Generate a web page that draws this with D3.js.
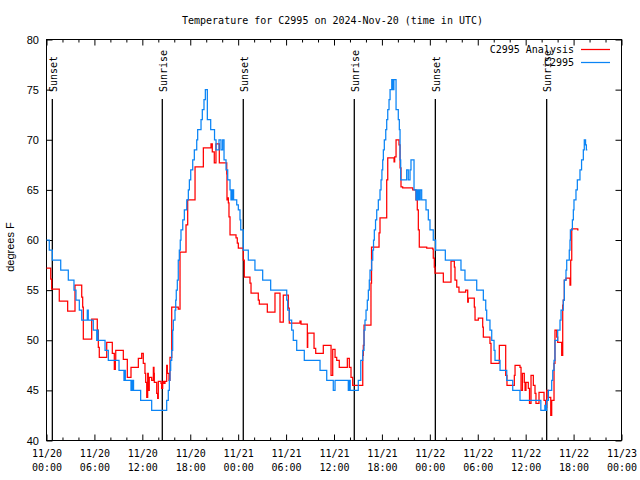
<!DOCTYPE html>
<html>
<head>
<meta charset="utf-8">
<script src="https://cdn.jsdelivr.net/npm/d3@7/dist/d3.min.js"></script>
<style>
  html, body { margin: 0; padding: 0; background: #fff; }
  svg { display: block; }
</style>
</head>
<body>
<svg id="chart" width="640" height="480"></svg>
<script>
// ---------- data (hours since 2024-11-20 00:00 UTC) ----------
const chartTitle = "Temperature for C2995 on 2024-Nov-20 (time in UTC)";
const yLabel = "degrees F";
const seriesNames = ["C2995 Analysis", "C2995"];
const seriesColors = ["#ff0000", "#0a84f5"];

const xTicks = [0, 6, 12, 18, 24, 30, 36, 42, 48, 54, 60, 66, 72];
const xTickLabels = [
  ["11/20", "00:00"], ["11/20", "06:00"], ["11/20", "12:00"], ["11/20", "18:00"],
  ["11/21", "00:00"], ["11/21", "06:00"], ["11/21", "12:00"], ["11/21", "18:00"],
  ["11/22", "00:00"], ["11/22", "06:00"], ["11/22", "12:00"], ["11/22", "18:00"],
  ["11/23", "00:00"]
];
const yTicks = [40, 45, 50, 55, 60, 65, 70, 75, 80];

const sunTimes = [0.73, 14.5, 24.64, 38.54, 48.69, 62.63];
const sunLabels = ["Sunset", "Sunrise", "Sunset", "Sunrise", "Sunset", "Sunrise"];

// C2995 Analysis (red) – change points
const analysisTime = [0, 0.53, 0.65, 1.60, 2.65, 3.57, 4.41, 4.53, 4.61, 5.66, 6.36, 6.49, 6.61, 7.54, 8.24, 8.49, 8.62, 8.67,
  9.62, 10.12, 10.58, 11.5, 11.92, 12.12, 12.33, 12.42, 12.55, 12.67, 12.75, 12.87, 13.17, 13.38, 13.46, 13.5, 13.8, 13.92,
  14.0, 14.34, 14.42, 14.55, 14.71, 14.84, 15.05, 15.13, 15.34, 15.46, 15.68, 16.5, 16.72, 17.47, 17.68, 18.6, 19.64,
  20.6, 20.76, 21.01, 21.22, 21.64, 22.57, 22.6, 22.69, 22.77, 22.85, 22.98, 23.73, 23.89, 24.02, 24.64, 24.77,
  25.48, 25.61, 26.52, 26.65, 27.65, 28.61, 29.24, 29.65, 30.28, 30.4, 31.74, 31.87, 32.66, 32.71, 33.5, 33.71, 34.66,
  35.63, 35.84, 36.13, 36.34, 36.66, 37.67, 37.92, 38.13, 38.34, 39.6, 39.67, 39.76, 40.63, 40.7, 41.64, 41.76, 42.6,
  42.73, 43.52, 43.6, 43.77, 44.14, 44.27, 44.39, 44.6, 45.86, 46.27, 46.43, 46.56, 46.68, 47.61, 48.36, 48.43, 48.56,
  48.65, 49.69, 50.65, 51.07, 51.15, 51.37, 51.65, 52.49, 52.74, 52.82, 53.57, 53.66, 54.07, 54.62, 54.7, 55.53, 55.66,
  56.7, 57.5, 57.66, 58.58, 58.67, 59.29, 59.42, 59.6, 59.83, 59.92, 60.04, 60.33, 60.48, 60.67, 60.96, 61.17, 61.29,
  61.67, 62.3, 62.51, 62.63, 62.84, 63.14, 63.26, 63.55, 63.67, 63.89, 64.01, 64.51, 64.64, 64.71, 64.84, 65.05, 65.55,
  65.64, 65.77, 66.52, 66.62];
const analysisTemp = [57.2, 56.1, 55.1, 53.9, 52.9, 55.5, 54.3, 53.3, 50.1, 52.1, 51.0, 49.3, 48.3, 49.8, 48.7, 47.1, 48.0, 49.0,
  48.1, 46.3, 47.3, 48.2, 48.7, 47.7, 46.7, 45.8, 44.3, 46.7, 45.0, 46.3, 46.0, 47.3, 46.7, 45.8, 44.7, 44.2,
  45.9, 45.7, 45.2, 45.9, 45.7, 45.9, 47.5, 46.7, 46.0, 48.3, 53.3, 53.1, 58.8, 61.5, 64.0, 67.3, 69.2,
  69.6, 68.8, 67.7, 69.6, 67.7, 66.6, 64.0, 64.2, 63.7, 62.3, 60.5, 60.2, 59.7, 59.2, 58.0, 56.3,
  55.7, 54.7, 54.0, 53.6, 52.8, 54.7, 51.8, 54.5, 53.2, 51.7, 51.9, 51.6, 49.3, 50.7, 49.2, 48.7, 49.5,
  46.5, 49.1, 48.3, 48.0, 47.3, 48.2, 47.3, 46.3, 45.5, 48.5, 49.5, 51.5, 55.7, 59.3, 60.7, 62.2, 66.0,
  68.2, 67.8, 68.3, 70.0, 69.5, 67.2, 65.3, 65.2, 65.0, 64.0, 63.0, 61.0, 59.3, 59.2, 59.1, 58.2, 57.3,
  56.7, 55.8, 57.9, 57.3, 56.0, 55.3, 54.8, 55.0, 53.8, 54.2, 53.3, 52.0, 52.2, 51.3, 50.3, 49.7, 47.7,
  49.5, 46.5, 45.5, 46.5, 47.5, 47.3, 45.0, 46.7, 45.8, 45.0, 45.8, 45.2, 43.7, 46.5, 45.5, 44.7, 43.7,
  44.8, 44.0, 43.3, 45.0, 44.3, 42.5, 44.0, 47.7, 51.0, 50.3, 49.8, 48.5, 53.5, 54.0, 56.0, 56.2, 55.5,
  58.0, 61.1, 61.0, 61.0];

// C2995 observations (blue) – change points
const obsTime = [0, 0.35, 0.73, 1.78, 2.73, 3.44, 3.69, 4.11, 4.41, 5.11, 5.23, 5.86, 6.29, 6.37, 6.45, 7.33, 7.74, 9.08,
  9.70, 9.78, 9.87, 10.58, 10.67, 10.75, 10.83, 10.9, 11.79, 13.17, 15.05, 15.25, 15.38, 15.46, 15.55, 15.68, 15.80,
  15.88, 16.09, 16.18, 16.25, 16.38, 16.50, 16.63, 16.75, 16.84, 17.06, 17.26, 17.56, 17.76, 17.89, 18.06, 18.31,
  18.51, 18.81, 18.93, 19.35, 19.51, 19.72, 19.89, 20.14, 20.56, 21.04, 21.23, 21.60, 21.85, 22.06, 22.23, 22.48,
  22.69, 22.98, 23.10, 23.18, 23.27, 23.35, 23.43, 23.82, 24.02, 24.23, 24.32, 24.64, 25.27, 26.1, 27.07, 28.07,
  30.08, 30.2, 30.4, 30.7, 30.9, 31.33, 32.28, 34.25, 35.09, 35.91, 36.13, 37.79, 37.9, 38.03, 39.04, 39.35, 39.6,
  39.76, 39.88, 40.01, 40.17, 40.30, 40.42, 40.51, 40.72, 40.85, 40.95, 41.05, 41.2, 41.35, 41.55, 41.76, 41.89,
  42.0, 42.1, 42.18, 42.3, 42.48, 42.6, 42.73, 42.89, 43.02, 43.23, 43.3, 43.37, 43.44, 43.5, 43.77, 44.05, 44.18,
  44.27, 44.35, 45.10, 45.3, 45.52, 45.64, 46.02, 46.27, 46.4, 46.5, 46.6, 46.7, 46.8, 46.98, 47.52, 47.81, 48.02,
  48.43, 48.73, 49.94, 51.9, 52.4, 53.87, 54.7, 55.0, 55.12, 55.53, 55.75, 56.04, 56.16, 56.79, 57.63, 58.38, 59.29,
  61.9, 62.4, 62.5, 62.63, 62.84, 63.26, 63.39, 63.55, 63.67, 64.01, 64.3, 64.43, 64.71, 64.84, 65.05, 65.14, 65.46,
  65.55, 65.6, 65.85, 65.97, 66.05, 66.3, 66.47, 66.8, 67.0, 67.22, 67.34, 67.5, 67.6, 67.72];
const obsTemp = [60, 59, 58, 57, 56, 55, 54, 53, 52, 53, 52, 51, 50, 51, 50, 49, 48, 47,
  46, 47, 46, 45, 46, 45, 46, 45, 44, 43, 44, 45, 46, 47, 48, 49, 51,
  52, 53, 54, 55, 56, 58, 59, 60, 61, 62, 63, 64, 65, 66, 67, 68,
  69, 70, 71, 72, 73, 74, 75, 72, 71, 70, 69, 70, 69, 70, 68, 67,
  66, 65, 64, 65, 64, 65, 64, 63.5, 63, 62, 61, 59, 58, 57, 56, 55,
  54, 53, 52, 51, 50, 49, 48, 47, 46, 45, 46, 45, 46, 45, 46, 48, 49,
  51, 52, 53, 54, 55, 56, 57, 58, 59, 60, 61, 62, 63, 64, 65, 66,
  67, 68, 69, 70, 71, 72, 73, 74, 75, 76, 75, 76, 75, 76, 73, 72, 71,
  68, 66, 67, 66, 67, 68, 65, 64, 65, 64, 65, 64, 65, 64, 63, 62, 61,
  60, 59, 58, 57, 56, 55, 54, 53, 52, 51, 50, 49, 48, 47, 46, 45, 44,
  43, 43.5, 43, 44, 45, 46, 47, 48, 50, 51, 52, 53, 54, 56, 57, 58, 59,
  60, 61, 62, 63, 64, 65, 66, 67, 68, 69, 70, 69.5, 69, 69];

// ---------- drawing ----------
const svg = d3.select("#chart");
const x = d3.scaleLinear().domain([0, 72]).range([46.5, 621.5]);
const y = d3.scaleLinear().domain([40, 80]).range([440.5, 39.5]);
const monoFont = "'DejaVu Sans Mono', monospace";
const sansFont = "'Liberation Sans', Arial, sans-serif";

svg.append("rect").attr("width", 640).attr("height", 480).attr("fill", "#fff");

// minor x ticks every 2h
const minorTicks = d3.range(0, 73, 2).filter(h => h % 6 !== 0);

function styleAxis(g) {
  g.select(".domain").remove();
  g.selectAll("line").attr("stroke", "#000").attr("stroke-width", 1);
}

svg.append("g").attr("transform", "translate(0,440.5)")
  .call(d3.axisBottom(x).tickValues(minorTicks).tickSize(-3).tickFormat(""))
  .call(styleAxis);
svg.append("g").attr("transform", "translate(0,39.5)")
  .call(d3.axisTop(x).tickValues(minorTicks).tickSize(-3).tickFormat(""))
  .call(styleAxis);

const xAxisB = svg.append("g").attr("transform", "translate(0,440.5)")
  .call(d3.axisBottom(x).tickValues(xTicks).tickSize(-6).tickFormat(""))
  .call(styleAxis);
xAxisB.selectAll(".tick").each(function(d, i) {
  const t = d3.select(this).append("text")
    .attr("fill", "#000").attr("text-anchor", "middle")
    .style("font-family", monoFont).style("font-size", "10px");
  t.append("tspan").attr("x", 0).attr("y", 16).text(xTickLabels[i][0]);
  t.append("tspan").attr("x", 0).attr("y", 30).text(xTickLabels[i][1]);
});
svg.append("g").attr("transform", "translate(0,39.5)")
  .call(d3.axisTop(x).tickValues(xTicks).tickSize(-6).tickFormat(""))
  .call(styleAxis);

const yAxisL = svg.append("g").attr("transform", "translate(46.5,0)")
  .call(d3.axisLeft(y).tickValues(yTicks).tickSize(-6).tickPadding(7.5).tickFormat(d3.format("d")))
  .call(styleAxis);
yAxisL.selectAll("text").attr("fill", "#000")
  .style("font-family", sansFont).style("font-size", "11px");
svg.append("g").attr("transform", "translate(621.5,0)")
  .call(d3.axisRight(y).tickValues(yTicks).tickSize(-6).tickFormat(""))
  .call(styleAxis);

// frame
svg.append("rect")
  .attr("x", x(0)).attr("y", y(80))
  .attr("width", x(72) - x(0)).attr("height", y(40) - y(80))
  .attr("fill", "none").attr("stroke", "#000").attr("stroke-width", 1);

// sunrise / sunset lines
const sun = svg.append("g");
sunTimes.forEach((t, i) => {
  sun.append("line")
    .attr("x1", x(t)).attr("x2", x(t)).attr("y1", 99).attr("y2", y(40))
    .attr("stroke", "#000").attr("stroke-width", 1.3);
  sun.append("text")
    .attr("transform", `translate(${x(t) + 4.5},92) rotate(-90)`)
    .attr("text-anchor", "start").attr("fill", "#000")
    .style("font-family", monoFont).style("font-size", "10px")
    .text(sunLabels[i]);
});

// series
const line = d3.line()
  .x(d => x(d[0])).y(d => y(d[1]))
  .curve(d3.curveStepAfter);

const obsData = obsTime.map((t, i) => [t, obsTemp[i]]);
const anaData = analysisTime.map((t, i) => [t, analysisTemp[i]]);

svg.append("path").datum(anaData)
  .attr("d", line).attr("fill", "none")
  .attr("stroke", seriesColors[0]).attr("stroke-width", 1.25);
svg.append("path").datum(obsData)
  .attr("d", line).attr("fill", "none")
  .attr("stroke", seriesColors[1]).attr("stroke-width", 1.25);

// legend
seriesNames.forEach((name, i) => {
  const ly = 49.5 + i * 13;
  svg.append("text")
    .attr("x", 574).attr("y", ly + 3.5)
    .attr("text-anchor", "end").attr("fill", "#000")
    .style("font-family", monoFont).style("font-size", "10px")
    .text(name);
  svg.append("line")
    .attr("x1", 581).attr("x2", 610).attr("y1", ly).attr("y2", ly)
    .attr("stroke", seriesColors[i]).attr("stroke-width", 1.25);
});

// title
svg.append("text")
  .attr("x", 332.5).attr("y", 23.5)
  .attr("text-anchor", "middle").attr("fill", "#000")
  .style("font-family", monoFont).style("font-size", "10px")
  .text(chartTitle);

// y label
svg.append("text")
  .attr("transform", "translate(14,247) rotate(-90)")
  .attr("text-anchor", "middle").attr("fill", "#000")
  .style("font-family", sansFont).style("font-size", "11px")
  .text(yLabel);
</script>
</body>
</html>
